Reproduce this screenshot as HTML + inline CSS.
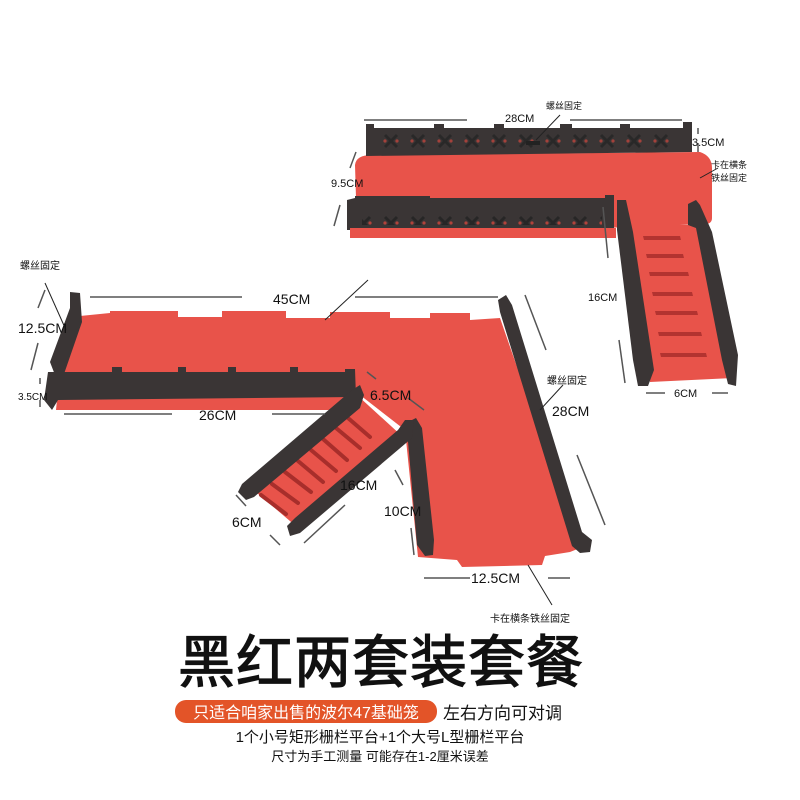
<!DOCTYPE html>
<html><head><meta charset="utf-8"><style>
html,body{margin:0;padding:0;background:#fff;width:800px;height:800px;overflow:hidden}
svg text{font-family:"Liberation Sans","Noto Sans CJK SC",sans-serif;fill:#111}
</style></head><body>
<svg width="800" height="800" viewBox="0 0 800 800" xmlns="http://www.w3.org/2000/svg">
<defs>
<pattern id="holes" x="0" y="0" width="27" height="30" patternUnits="userSpaceOnUse">
<circle cx="10" cy="14" r="2" fill="#c8403a"/><circle cx="18" cy="14" r="2" fill="#c8403a"/>
</pattern>
<pattern id="xh" x="0" y="0" width="27" height="30" patternUnits="userSpaceOnUse">
<path d="M7 7 L19 19 M19 7 L7 19" stroke="#222" stroke-width="3"/>
<circle cx="7" cy="13" r="1.6" fill="#d0463d"/><circle cx="19" cy="13" r="1.6" fill="#d0463d"/>
</pattern>
<pattern id="xh2" x="0" y="128" width="27" height="30" patternUnits="userSpaceOnUse">
<path d="M7 7 L19 19 M19 7 L7 19" stroke="#222" stroke-width="3"/>
<circle cx="7" cy="13" r="1.6" fill="#d0463d"/><circle cx="19" cy="13" r="1.6" fill="#d0463d"/>
</pattern>
</defs>

<!-- TOP SMALL PLATFORM -->
<path d="M372 155 L700 152 Q712 156 712 168 L712 218 Q712 224 705 224 L355 238 L350 232 L350 205 Q352 200 356 198 L355 165 Q356 155 372 155 Z" fill="#e8534a"/>
<polygon points="366,124 374,124 374,128 434,128 434,124 444,124 444,128 494,128 494,124 504,124 504,128 560,128 560,124 572,124 572,128 620,128 620,124 630,124 630,128 683,128 683,122 692,122 692,152 366,156" fill="#3a3535"/>
<rect x="380" y="130" width="300" height="22" fill="url(#xh2)" opacity="0.7"/>
<rect x="526" y="141" width="14" height="4" fill="#222"/>
<polygon points="347,200 355,198 355,196 430,196 430,198 570,198 605,198 605,195 614,195 614,228 347,230" fill="#3a3535"/>
<rect x="362" y="203" width="240" height="22" fill="url(#xh)" opacity="0.8"/>
<rect x="350" y="228" width="266" height="10" fill="#e8534a"/>
<polygon points="624,225 696,225 733,378 650,382" fill="#e8534a"/>
<g fill="#b33330"><polygon points="643,236 680,236 681,240 644,240"/><polygon points="646,254 683,254 684,258 647,258"/><polygon points="649,272 688,272 689,276 650,276"/><polygon points="652,292 692,292 693,296 653,296"/><polygon points="655,311 697,311 698,315 656,315"/><polygon points="658,332 701,332 702,336 659,336"/><polygon points="660,353 706,353 707,357 661,357"/></g>
<polygon points="617,200 626,200 633,232 654,370 648,386 638,386 633,360 617,230" fill="#3a3535"/>
<polygon points="688,204 696,200 700,205 712,232 738,355 736,386 728,384 722,360 696,228 688,225" fill="#3a3535"/>

<!-- LARGE L PLATFORM -->
<path d="M80 316 L110 313 L110 311 L178 311 L178 317 L222 317 L222 311 L286 311 L286 318 L330 318 L330 312 L390 312 L390 318 L430 318 L430 313 L470 313 L470 320 L500 318 L580 548 L570 552 L545 556 L542 565 L462 567 L457 560 L418 557 L405 430 L360 395 L355 410 L56 410 L60 370 Z" fill="#e8534a"/>
<polygon points="498,300 506,295 512,305 582,532 592,540 590,552 580,553 572,546 500,312" fill="#3a3535"/>
<polygon points="70,292 80,293 82,322 64,374 55,375 50,362 70,308" fill="#3a3535"/>
<polygon points="48,372 112,372 112,367 122,367 122,372 178,372 178,367 186,367 186,372 228,372 228,367 236,367 236,372 290,372 290,367 298,367 298,372 345,372 345,369 355,369 356,397 58,400 52,410 44,400" fill="#3a3535"/>
<rect x="62" y="376" width="285" height="20" fill="url(#holes)"/>
<polygon points="408,422 416,418 422,428 434,540 433,555 425,556 417,545 407,430" fill="#3a3535"/>
<polygon points="357,395 403,437 297,527 250,487" fill="#e8534a"/>
<g stroke="#a82e2b" stroke-width="4" stroke-linecap="round"><line x1="348" y1="418" x2="370" y2="437"/><line x1="336" y1="428" x2="360" y2="448"/><line x1="323" y1="439" x2="347" y2="460"/><line x1="311" y1="450" x2="336" y2="471"/><line x1="298" y1="461" x2="323" y2="482"/><line x1="285" y1="472" x2="311" y2="492"/><line x1="272" y1="484" x2="298" y2="503"/><line x1="261" y1="495" x2="286" y2="514"/></g>
<polygon points="352,390 360,385 364,395 360,408 254,497 246,500 238,492 242,484 345,396" fill="#3a3535"/>
<polygon points="405,420 414,420 412,438 300,533 290,536 287,526 295,518 398,430" fill="#3a3535"/>

<g stroke="#555" stroke-width="1.5" fill="none">
<line x1="364" y1="120" x2="467" y2="120"/><line x1="570" y1="120" x2="682" y2="120"/>
<line x1="356" y1="152" x2="350" y2="168"/><line x1="340" y1="205" x2="334" y2="226"/>
<line x1="698" y1="128" x2="698" y2="134"/><line x1="698" y1="143" x2="698" y2="152"/>
<line x1="603" y1="207" x2="608" y2="258"/><line x1="619" y1="340" x2="625" y2="383"/>
<line x1="646" y1="393" x2="665" y2="393"/><line x1="712" y1="393" x2="728" y2="393"/>
<line x1="90" y1="297" x2="242" y2="297"/><line x1="355" y1="297" x2="498" y2="297"/>
<line x1="45" y1="290" x2="38" y2="308"/><line x1="38" y1="343" x2="31" y2="370"/>
<line x1="40" y1="378" x2="40" y2="384"/><line x1="40" y1="400" x2="40" y2="407"/>
<line x1="64" y1="414" x2="172" y2="414"/><line x1="272" y1="414" x2="325" y2="414"/>
<line x1="525" y1="295" x2="546" y2="350"/><line x1="577" y1="455" x2="605" y2="525"/>
<line x1="367" y1="372" x2="376" y2="379"/><line x1="408" y1="398" x2="424" y2="410"/>
<line x1="236" y1="495" x2="246" y2="506"/><line x1="270" y1="535" x2="280" y2="545"/>
<line x1="304" y1="543" x2="345" y2="505"/>
<line x1="411" y1="528" x2="414" y2="555"/><line x1="395" y1="470" x2="403" y2="485"/>
<line x1="424" y1="578" x2="470" y2="578"/><line x1="548" y1="578" x2="570" y2="578"/>
</g>
<g stroke="#222" stroke-width="1" fill="none">
<line x1="536" y1="140" x2="560" y2="115"/><line x1="700" y1="178" x2="718" y2="168"/>
<line x1="45" y1="283" x2="66" y2="330"/><line x1="325" y1="320" x2="368" y2="280"/>
<line x1="540" y1="410" x2="563" y2="385"/><line x1="528" y1="565" x2="552" y2="605"/>
</g>

<g font-size="11">
<text x="505" y="122">28CM</text>
<text x="546" y="109" font-size="9">螺丝固定</text>
<text x="692" y="146">3.5CM</text>
<text x="711" y="168" font-size="9">卡在横条</text>
<text x="711" y="181" font-size="9">铁丝固定</text>
<text x="331" y="187">9.5CM</text>
<text x="588" y="301">16CM</text>
<text x="674" y="397">6CM</text>
<text x="20" y="269" font-size="10">螺丝固定</text>
<text x="18" y="400" font-size="10">3.5CM</text>
<text x="547" y="384" font-size="10">螺丝固定</text>
<text x="490" y="622" font-size="10">卡在横条铁丝固定</text>
</g>
<g font-size="14">
<text x="273" y="304">45CM</text>
<text x="18" y="333">12.5CM</text>
<text x="199" y="420">26CM</text>
<text x="370" y="400">6.5CM</text>
<text x="552" y="416">28CM</text>
<text x="340" y="490">16CM</text>
<text x="384" y="516">10CM</text>
<text x="232" y="527">6CM</text>
<text x="471" y="583">12.5CM</text>
</g>

<text x="381" y="682" text-anchor="middle" font-size="57" stroke="#111" stroke-width="1.2" letter-spacing="1">黑红两套装套餐</text>
<rect x="175" y="700" width="262" height="23" rx="11" fill="#e35428"/>
<text x="306" y="718" text-anchor="middle" font-size="16" style="fill:#fff">只适合咱家出售的波尔47基础笼</text>
<text x="443" y="719" font-size="17">左右方向可对调</text>
<text x="380" y="742" text-anchor="middle" font-size="15">1个小号矩形栅栏平台+1个大号L型栅栏平台</text>
<text x="380" y="761" text-anchor="middle" font-size="13">尺寸为手工测量 可能存在1-2厘米误差</text>
</svg>
</body></html>
